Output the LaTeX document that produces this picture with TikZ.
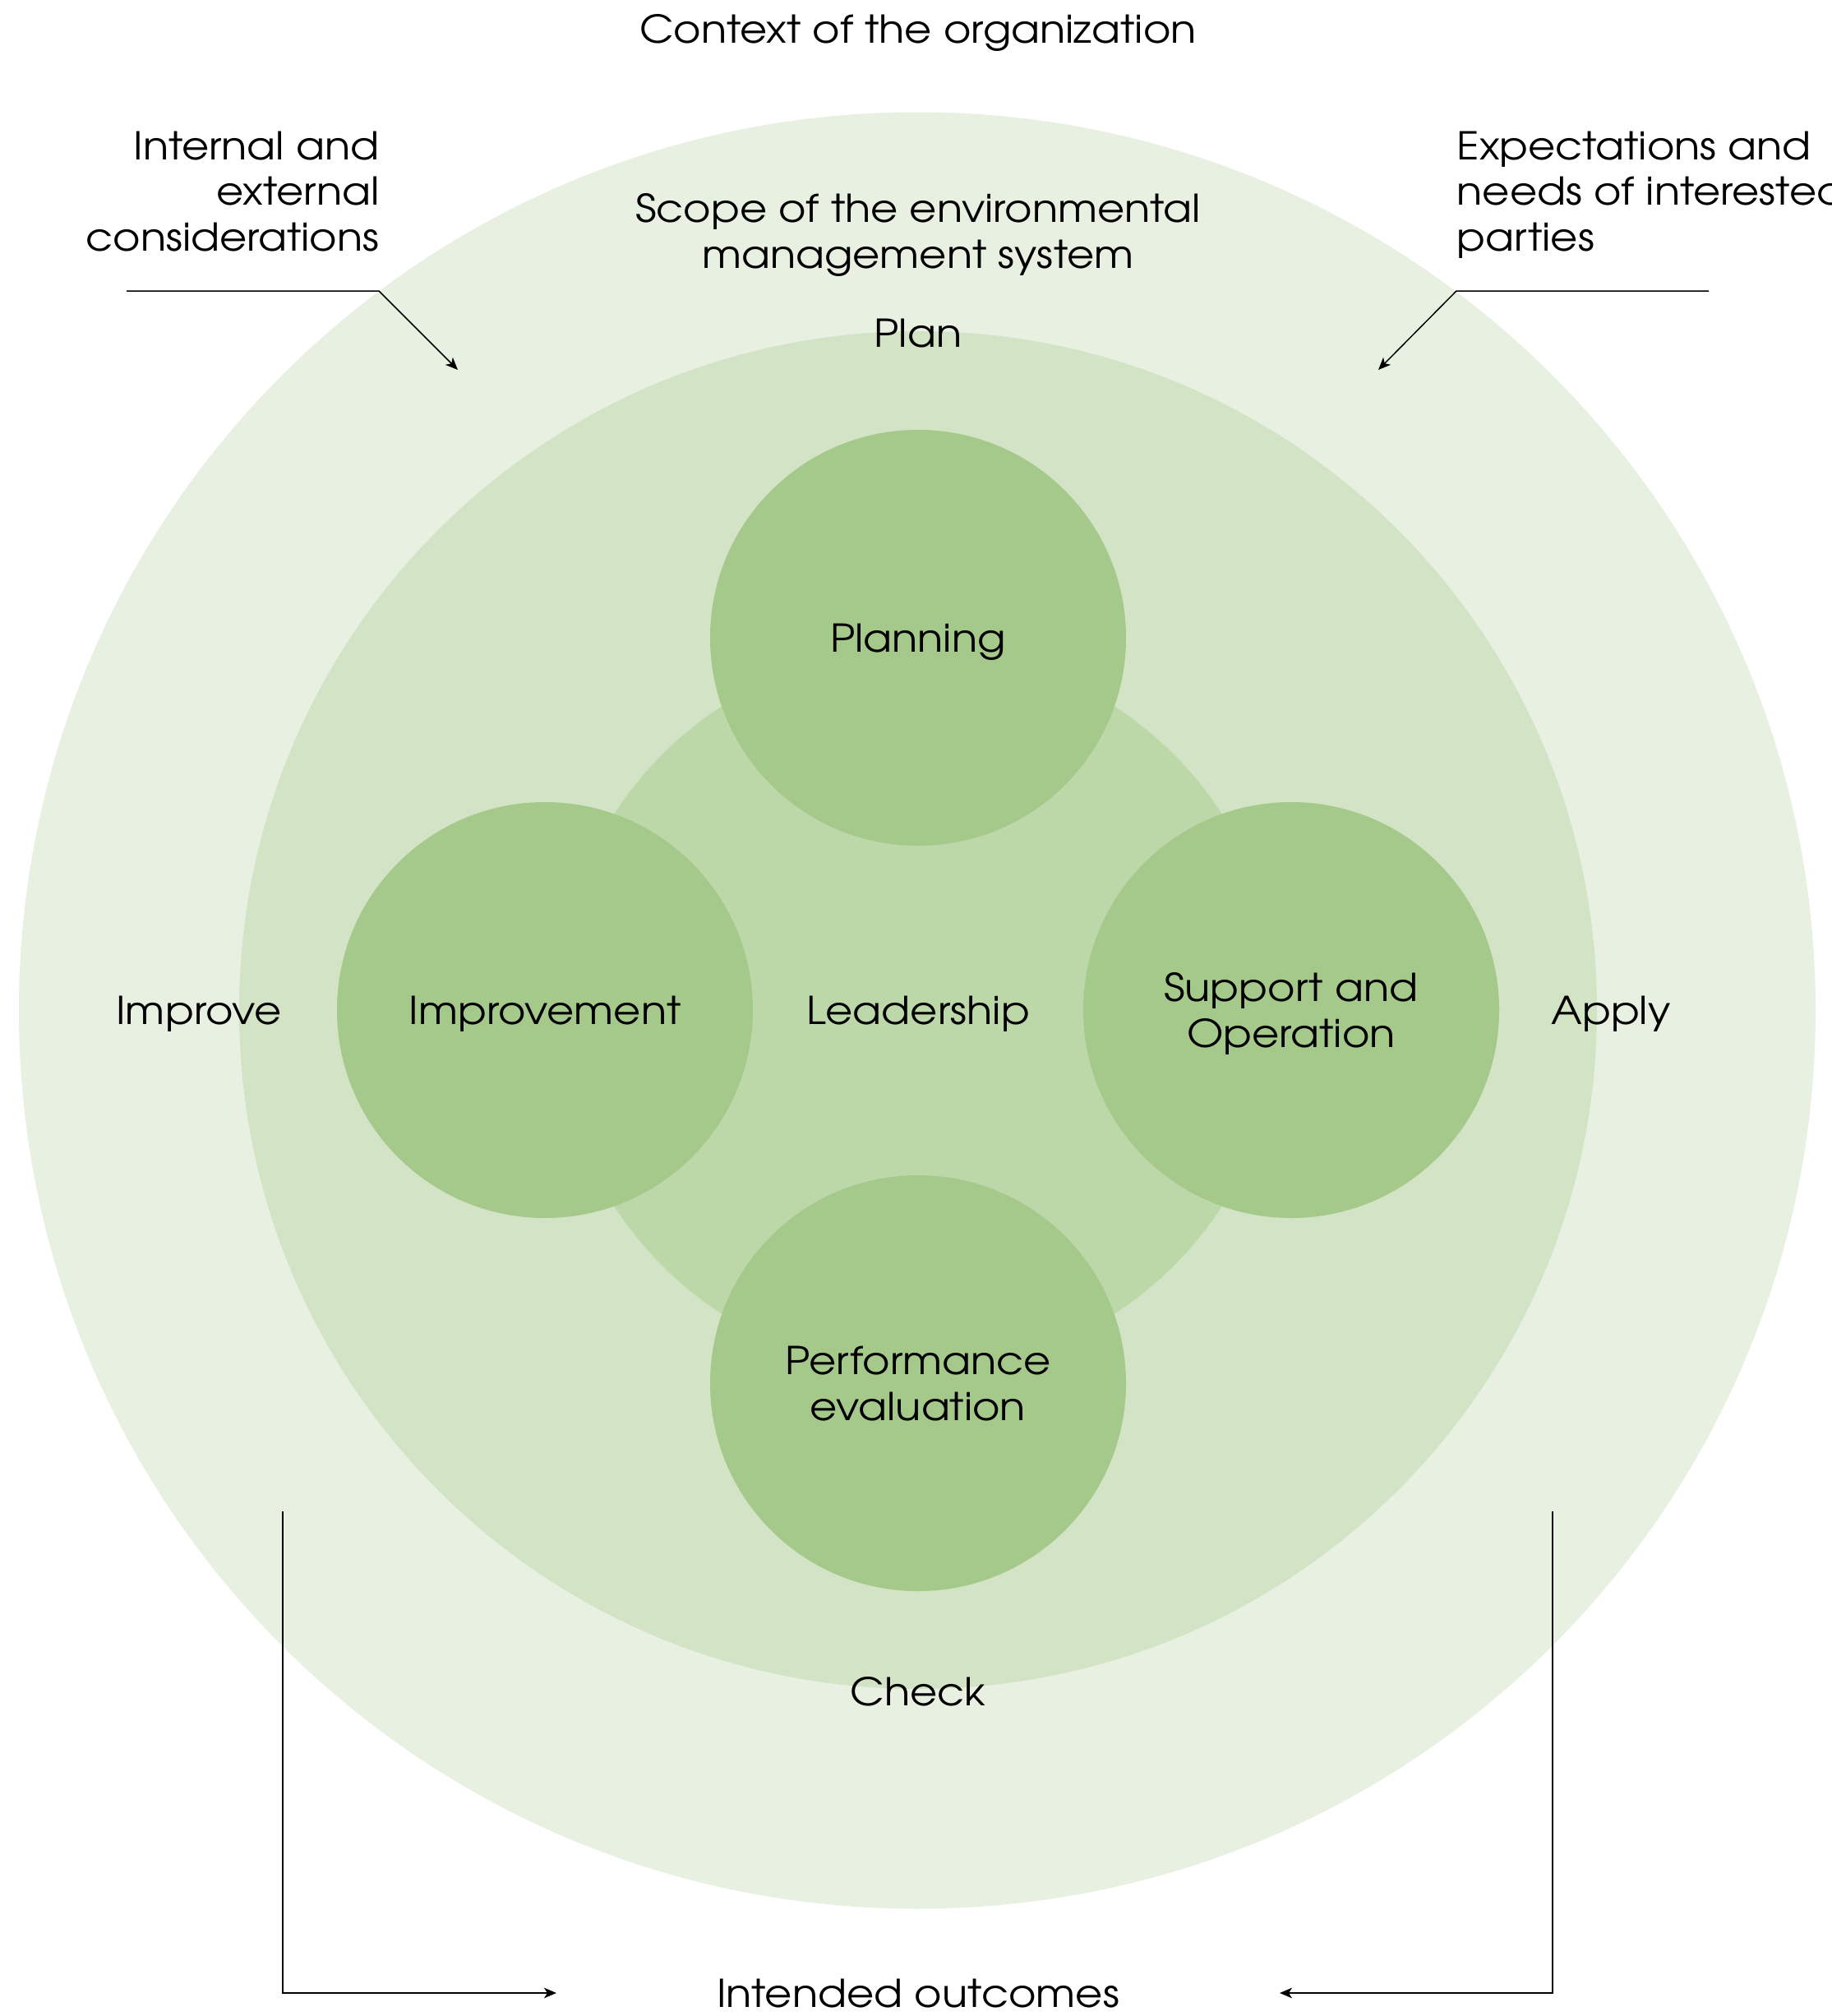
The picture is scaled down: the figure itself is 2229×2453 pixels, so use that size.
\documentclass[tikz,border=0pt]{standalone}
\usepackage{fontspec}
\setmainfont[FakeStretch=1.095]{TeX Gyre Adventor}
\usetikzlibrary{arrows.meta}
\definecolor{ringA}{RGB}{232,240,225}
\definecolor{ringB}{RGB}{211,227,197}
\definecolor{ringC}{RGB}{188,216,168}
\definecolor{satc}{RGB}{165,200,139}
\begin{document}
\begin{tikzpicture}[x=0.3pt,y=-0.3pt,
  disc/.style={circle, inner sep=0pt, draw=none, font=\fontsize{14}{16.7}\selectfont, align=center, text depth=0pt},
  lbl/.style={font=\fontsize{14}{16.7}\selectfont, inner sep=0pt, align=center},
  conn/.style={line width=0.45pt, -{Stealth[length=4.5pt,width=3.8pt,inset=1.2pt]}}
]
\useasboundingbox (0,0) rectangle (2229,2453);
\node[disc, fill=ringA, minimum size=655.8pt] (outer) at (1116,1229.5) {};
\node[disc, fill=ringB, minimum size=495.6pt] (middle) at (1117,1229) {};
\node[disc, fill=ringC, minimum size=264pt] (lead) at (1117,1229) {Leadership};
\node[disc, fill=satc, minimum size=151.8pt] (planning) at (1117,776) {Planning};
\node[disc, fill=satc, minimum size=151.8pt] (improvement) at (663,1229) {Improvement};
\node[disc, fill=satc, minimum size=151.8pt] (support) at (1571,1229) {Support and\\Operation};
\node[disc, fill=satc, minimum size=151.8pt] (perf) at (1117,1683) {Performance\\evaluation};

\node[lbl, anchor=base] (context) at (1117,52) {Context of the organization};
\node[lbl, text depth=0pt] (scope) at (1117,281) {Scope of the environmental\\management system};
\node[lbl, anchor=base] (plan) at (1117,422) {Plan};
\node[lbl, anchor=base] (check) at (1117,2075) {Check};
\node[lbl, anchor=base] (apply) at (1960,1246) {Apply};
\node[lbl, anchor=base] (improve) at (242,1246) {Improve};
\node[lbl, anchor=base] (outcomes) at (1117,2442) {Intended outcomes};
\node[lbl, align=right, anchor=north east] (internal) at (462,159) {Internal and\\external\\considerations};
\node[lbl, align=left, anchor=north west] (expect) at (1772,159) {Expectations and\\needs of interested\\parties};

\coordinate (tlA) at (154,354);
\coordinate (tlB) at (461,354);
\coordinate (tlC) at (557,450);
\coordinate (trA) at (2079,354);
\coordinate (trB) at (1772,354);
\coordinate (trC) at (1677,450);
\coordinate (blA) at (344,1839);
\coordinate (blB) at (344,2425);
\coordinate (blC) at (677,2425);
\coordinate (brA) at (1889,1839);
\coordinate (brB) at (1889,2425);
\coordinate (brC) at (1557,2425);
\draw[conn] (tlA) -- (tlB) -- (tlC);
\draw[conn] (trA) -- (trB) -- (trC);
\draw[conn] (blA) -- (blB) -- (blC);
\draw[conn] (brA) -- (brB) -- (brC);
\end{tikzpicture}
\end{document}
